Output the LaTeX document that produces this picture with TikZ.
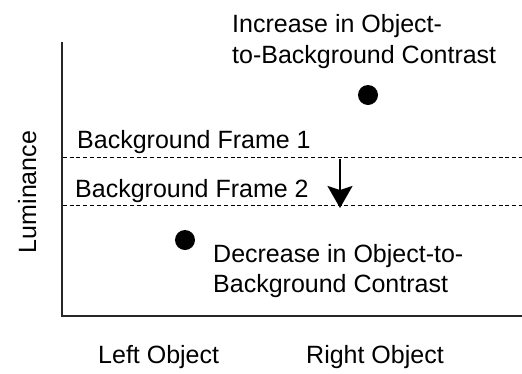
\documentclass[tikz,border=0pt]{standalone}
\usepackage{fontspec}
\setmainfont{Liberation Sans}
\usetikzlibrary{arrows.meta}
\begin{document}
\begin{tikzpicture}[x=1pt,y=-1pt,
  lbl/.style={inner sep=0pt,anchor=base west,font=\fontsize{25}{30}\selectfont},
  axisline/.style={line width=2pt,black!85},
  framebg/.style={line width=1.5pt,dash pattern=on 4pt off 2.7pt},
  dot/.style={circle,fill=black,inner sep=0pt,minimum size=20pt},
  shift arrow/.style={line width=2pt,-{Stealth[length=22pt,width=25pt,inset=4pt]}}]
  \useasboundingbox (0,0) rectangle (522,373);

  % axes
  \coordinate (ytop) at (62,42);
  \coordinate (origin) at (62,316);
  \coordinate (xend) at (522,316);
  \draw[axisline] (ytop) -- (origin) -- (xend);

  % background luminance levels
  \coordinate (f1a) at (63,157.3);
  \coordinate (f1b) at (522,157.3);
  \coordinate (f2a) at (63,205.3);
  \coordinate (f2b) at (522,205.3);
  \draw[framebg] (f1a) -- (f1b);
  \draw[framebg] (f2a) -- (f2b);
  \node[lbl] (bg1) at (77,148) {Background Frame 1};
  \node[lbl] (bg2) at (75,197) {Background Frame 2};

  % shift of the background
  \coordinate (arrS) at (340,159);
  \coordinate (arrE) at (340,208);
  \draw[shift arrow] (arrS) -- (arrE);

  % object luminances
  \node[dot] (rdot) at (368,95) {};
  \node[dot] (ldot) at (185,240) {};

  \node[lbl] (inc1) at (232,32) {Increase in Object-};
  \node[lbl] (inc2) at (232,63.5) {to-Background Contrast};
  \node[lbl] (dec1) at (213,262) {Decrease in Object-to-};
  \node[lbl] (dec2) at (213,292) {Background Contrast};

  % axis labels
  \node[lbl,rotate=90,anchor=base] (ylab) at (36,192) {Luminance};
  \node[lbl] (lobj) at (98,363) {Left Object};
  \node[lbl] (robj) at (306,363) {Right Object};
\end{tikzpicture}
\end{document}
